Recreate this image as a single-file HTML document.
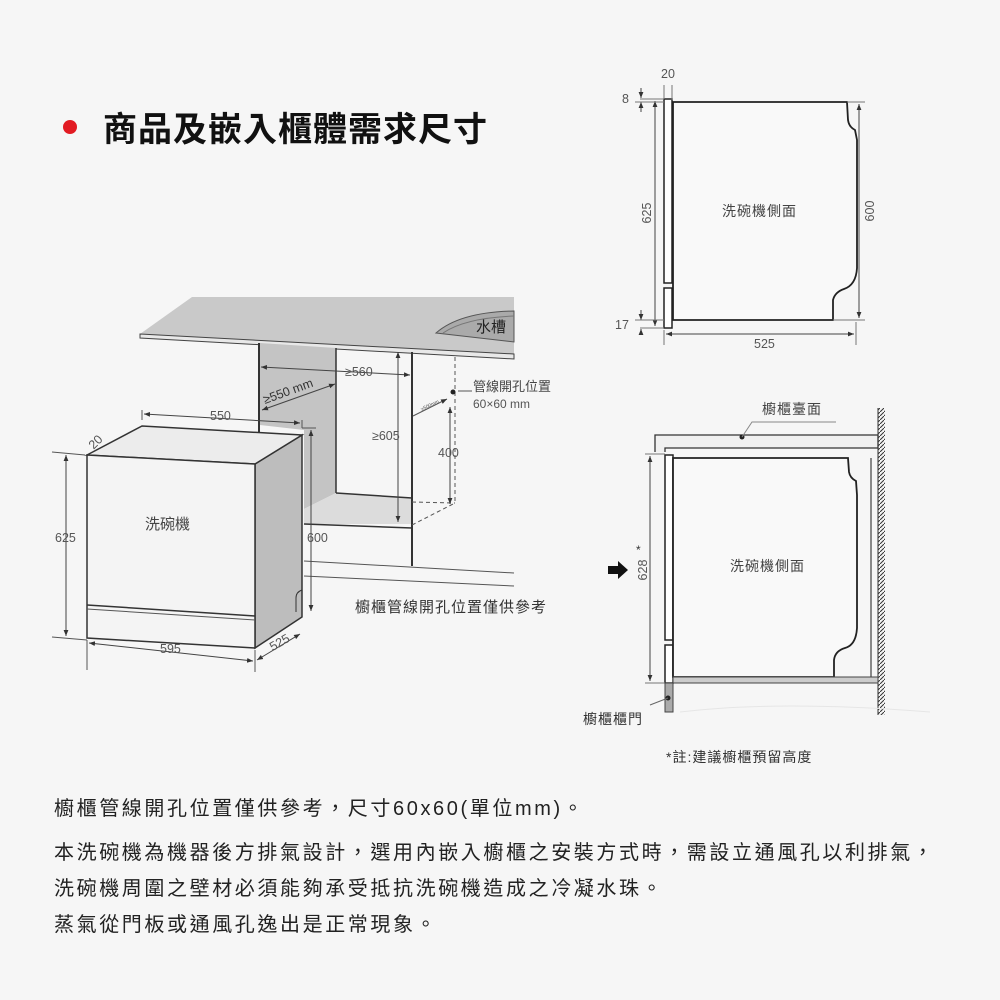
<!DOCTYPE html>
<html><head><meta charset="utf-8"><style>
html,body{margin:0;padding:0;background:#f6f6f6;}
svg{display:block;}
text{font-family:"Liberation Sans","Noto Sans CJK TC",sans-serif;}
.p{font-size:20px;fill:#222;letter-spacing:2.6px;}
.d{font-size:12.5px;fill:#555;}
</style></head><body>
<svg width="1000" height="1000" viewBox="0 0 1000 1000" xmlns="http://www.w3.org/2000/svg">
<defs>
<marker id="a" viewBox="0 0 10 10" refX="10" refY="5" markerWidth="6" markerHeight="6" orient="auto-start-reverse"><path d="M0,1 L10,5 L0,9 z" fill="#333"/></marker>
<pattern id="h" width="4" height="4" patternUnits="userSpaceOnUse"><path d="M0,4 L4,0" stroke="#333" stroke-width="1"/></pattern>
</defs>
<rect width="1000" height="1000" fill="#f6f6f6"/>
<circle cx="70" cy="127" r="7" fill="#e21b23"/>
<text x="103" y="141" font-size="34" font-weight="bold" fill="#111" style="letter-spacing:1px">商品及嵌入櫃體需求尺寸</text>

<polygon points="140,334 192,297 514,297 514,354" fill="#c9c9c9"/>
<polygon points="140,334 514,354 514,359 140,338" fill="#e8e8e8" stroke="#444" stroke-width="1"/>
<path d="M436,333 Q460,312 514,311 L514,342 Z" fill="#aaa" stroke="#555"/>
<path d="M443,333 Q465,318 514,316" fill="none" stroke="#777"/>
<text x="476" y="332" font-size="15" fill="#222">水槽</text>
<polygon points="260,343 336,348 336,493 304,509 304,430 260,425" fill="#c4c4c4"/>
<polygon points="304,509 336,493 412,498 412,524 304,524" fill="#dcdcdc"/>
<line x1="259" y1="343" x2="259" y2="432" stroke="#333" stroke-width="2"/>
<line x1="336" y1="348" x2="336" y2="493" stroke="#333" stroke-width="1.5"/>
<line x1="412" y1="352" x2="412" y2="566" stroke="#333" stroke-width="2"/>
<line x1="336" y1="493" x2="412" y2="498" stroke="#333" stroke-width="1.5"/>
<line x1="304" y1="524" x2="412" y2="528" stroke="#333" stroke-width="1.5"/>
<line x1="304" y1="561" x2="514" y2="573" stroke="#555" stroke-width="1"/>
<line x1="304" y1="576" x2="514" y2="586" stroke="#555" stroke-width="1"/>
<line x1="455" y1="357" x2="455" y2="503" stroke="#555" stroke-dasharray="4,3"/>
<line x1="412" y1="525" x2="455" y2="503" stroke="#555" stroke-dasharray="4,3"/>
<line x1="412" y1="502" x2="455" y2="503" stroke="#555" stroke-dasharray="4,3"/>
<circle cx="453" cy="392" r="2.5" fill="#222"/>
<line x1="458" y1="391" x2="472" y2="391" stroke="#555"/>
<text x="473" y="391" font-size="13" fill="#444">管線開孔位置</text>
<text x="473" y="408" font-size="12" fill="#555">60×60 mm</text>
<line x1="413" y1="416" x2="447" y2="399" stroke="#555" marker-end="url(#a)"/>
<text x="420" y="409" font-size="5" fill="#555" transform="rotate(-25 425 406)">≥500mm</text>
<line x1="450" y1="407" x2="450" y2="504" stroke="#444" marker-start="url(#a)" marker-end="url(#a)"/>
<text x="438" y="457" class="d">400</text>
<line x1="398" y1="352" x2="398" y2="522" stroke="#444" marker-start="url(#a)" marker-end="url(#a)"/>
<text x="372" y="440" class="d">≥605</text>
<line x1="261" y1="367" x2="410" y2="375" stroke="#444" marker-start="url(#a)" marker-end="url(#a)"/>
<text x="345" y="376" class="d">≥560</text>
<line x1="262" y1="410" x2="335" y2="384" stroke="#444" marker-start="url(#a)" marker-end="url(#a)"/>
<text x="265" y="404" font-size="12.5" fill="#333" transform="rotate(-20 265 404)">≥550 mm</text>
<polygon points="255,464 302,435 302,617 255,648" fill="#bdbdbd" stroke="#333" stroke-width="1.5"/>
<polygon points="87,455 142,426 302,435 255,464" fill="#ececec" stroke="#333" stroke-width="1.5"/>
<polygon points="87,455 255,464 255,648 87,638" fill="#f4f4f4" stroke="#333" stroke-width="1.5"/>
<line x1="87" y1="605" x2="255" y2="616" stroke="#333" stroke-width="1.5"/>
<line x1="87" y1="609" x2="255" y2="620" stroke="#555"/>
<path d="M302,590 Q296,592 296,598 L296,612" fill="none" stroke="#333"/>
<text x="145" y="529" font-size="15" fill="#444">洗碗機</text>
<line x1="142" y1="420" x2="142" y2="410" stroke="#555"/>
<line x1="302" y1="428" x2="302" y2="420" stroke="#555"/>
<line x1="144" y1="414" x2="300" y2="423" stroke="#444" marker-start="url(#a)" marker-end="url(#a)"/>
<text x="210" y="420" class="d">550</text>
<line x1="52" y1="452" x2="85" y2="455" stroke="#555"/>
<line x1="52" y1="637" x2="87" y2="640" stroke="#555"/>
<line x1="66" y1="455" x2="66" y2="636" stroke="#444" marker-start="url(#a)" marker-end="url(#a)"/>
<text x="55" y="542" class="d">625</text>
<line x1="87" y1="640" x2="87" y2="670" stroke="#555"/>
<line x1="255" y1="650" x2="255" y2="672" stroke="#555"/>
<line x1="89" y1="643" x2="253" y2="661" stroke="#444" marker-start="url(#a)" marker-end="url(#a)"/>
<text x="160" y="653" class="d">595</text>
<line x1="257" y1="660" x2="300" y2="634" stroke="#444" marker-start="url(#a)" marker-end="url(#a)"/>
<text x="268" y="646" class="d" transform="rotate(-30 280 640)">525</text>
<line x1="311" y1="430" x2="311" y2="611" stroke="#444" marker-start="url(#a)" marker-end="url(#a)"/>
<line x1="302" y1="428" x2="316" y2="428" stroke="#555"/>
<text x="307" y="542" class="d">600</text>
<text x="87" y="446" class="d" transform="rotate(-45 95 440)">20</text>
<text x="355" y="612" font-size="15" fill="#333" style="letter-spacing:1px">櫥櫃管線開孔位置僅供參考</text>

<rect x="664" y="99" width="8" height="184" fill="#fff" stroke="#222" stroke-width="1.5"/>
<rect x="664" y="288" width="8" height="40" fill="#fff" stroke="#222" stroke-width="1.5"/>
<path d="M673,102 L847,102 L848,120 Q849,127 855,130 L857,140 L857,268 Q856,285 844,289 Q835,292 833,300 L833,320 L673,320 Z" fill="#f9f9f9" stroke="#222" stroke-width="1.8"/>
<line x1="847" y1="102" x2="865" y2="102" stroke="#777"/>
<line x1="833" y1="320" x2="865" y2="320" stroke="#777"/>
<line x1="859" y1="104" x2="859" y2="318" stroke="#444" marker-start="url(#a)" marker-end="url(#a)"/>
<text x="874" y="211" class="d" transform="rotate(-90 874 211)" text-anchor="middle">600</text>
<line x1="640" y1="99" x2="664" y2="99" stroke="#777"/>
<line x1="640" y1="328" x2="664" y2="328" stroke="#777"/>
<line x1="655" y1="101" x2="655" y2="326" stroke="#444" marker-start="url(#a)" marker-end="url(#a)"/>
<text x="651" y="213" class="d" transform="rotate(-90 651 213)" text-anchor="middle">625</text>
<line x1="664" y1="85" x2="664" y2="99" stroke="#777"/><line x1="672" y1="85" x2="672" y2="100" stroke="#777"/>
<text x="661" y="78" class="d">20</text>
<line x1="641" y1="88" x2="641" y2="98" stroke="#444" marker-end="url(#a)"/>
<line x1="641" y1="112" x2="641" y2="102" stroke="#444" marker-end="url(#a)"/>
<line x1="635" y1="102" x2="664" y2="102" stroke="#777"/>
<text x="622" y="103" class="d">8</text>
<line x1="641" y1="310" x2="641" y2="320" stroke="#444" marker-end="url(#a)"/>
<line x1="641" y1="335" x2="641" y2="329" stroke="#444" marker-end="url(#a)"/>
<line x1="635" y1="320" x2="664" y2="320" stroke="#777"/>
<text x="615" y="329" class="d">17</text>
<line x1="664" y1="330" x2="664" y2="345" stroke="#777"/><line x1="856" y1="322" x2="856" y2="345" stroke="#777"/>
<line x1="666" y1="334" x2="854" y2="334" stroke="#444" marker-start="url(#a)" marker-end="url(#a)"/>
<text x="754" y="348" class="d">525</text>
<text x="722" y="216" font-size="14" fill="#444" style="letter-spacing:1px">洗碗機側面</text>

<path d="M655,452 L655,435 L878,435 L878,448 L665,448 L665,452" fill="#f0f0f0" stroke="#333" stroke-width="1.3"/>
<circle cx="742" cy="437" r="2.5" fill="#222"/>
<path d="M742,437 L752,422 L836,422" fill="none" stroke="#888"/>
<text x="762" y="414" font-size="14" fill="#444" style="letter-spacing:1px">櫥櫃臺面</text>
<rect x="878" y="408" width="7" height="307" fill="url(#h)"/>
<line x1="878" y1="408" x2="878" y2="715" stroke="#333"/>
<line x1="871" y1="458" x2="871" y2="677" stroke="#888" stroke-width="2"/>
<rect x="665" y="455" width="8" height="185" fill="#fff" stroke="#222" stroke-width="1.5"/>
<rect x="665" y="645" width="8" height="38" fill="#fff" stroke="#222" stroke-width="1.5"/>
<path d="M673,458 L848,458 L849,472 Q850,478 856,481 L857,495 L857,628 Q856,645 845,648 Q835,651 834,660 L834,677 L673,677 Z" fill="#f9f9f9" stroke="#222" stroke-width="1.8"/>
<rect x="673" y="677" width="205" height="6" fill="#ccc" stroke="#444"/>
<rect x="665" y="683" width="8" height="29" fill="#aaa" stroke="#444"/>
<circle cx="668" cy="698" r="2.5" fill="#222"/>
<line x1="668" y1="698" x2="650" y2="705" stroke="#666"/>
<path d="M680,712 Q780,700 930,712" fill="none" stroke="#e6e6e6"/>
<text x="583" y="724" font-size="14" fill="#333" style="letter-spacing:1px">櫥櫃櫃門</text>
<line x1="645" y1="454" x2="665" y2="454" stroke="#777"/>
<line x1="645" y1="683" x2="665" y2="683" stroke="#777"/>
<line x1="650" y1="456" x2="650" y2="681" stroke="#444" marker-start="url(#a)" marker-end="url(#a)"/>
<text x="647" y="570" class="d" transform="rotate(-90 647 570)" text-anchor="middle">628</text>
<text x="636" y="554" font-size="12" fill="#333">*</text>
<path d="M608,566 L618,566 L618,561 L628,570 L618,579 L618,574 L608,574 Z" fill="#111"/>
<text x="730" y="571" font-size="14" fill="#444" style="letter-spacing:1px">洗碗機側面</text>
<text x="666" y="762" font-size="14" fill="#333" style="letter-spacing:1px">*註:建議櫥櫃預留高度</text>

<text x="54" y="815" class="p">櫥櫃管線開孔位置僅供參考，尺寸60x60(單位mm)。</text>
<text x="54" y="859" class="p">本洗碗機為機器後方排氣設計，選用內嵌入櫥櫃之安裝方式時，需設立通風孔以利排氣，</text>
<text x="54" y="895" class="p">洗碗機周圍之壁材必須能夠承受抵抗洗碗機造成之冷凝水珠。</text>
<text x="54" y="931" class="p">蒸氣從門板或通風孔逸出是正常現象。</text>
</svg>
</body></html>
